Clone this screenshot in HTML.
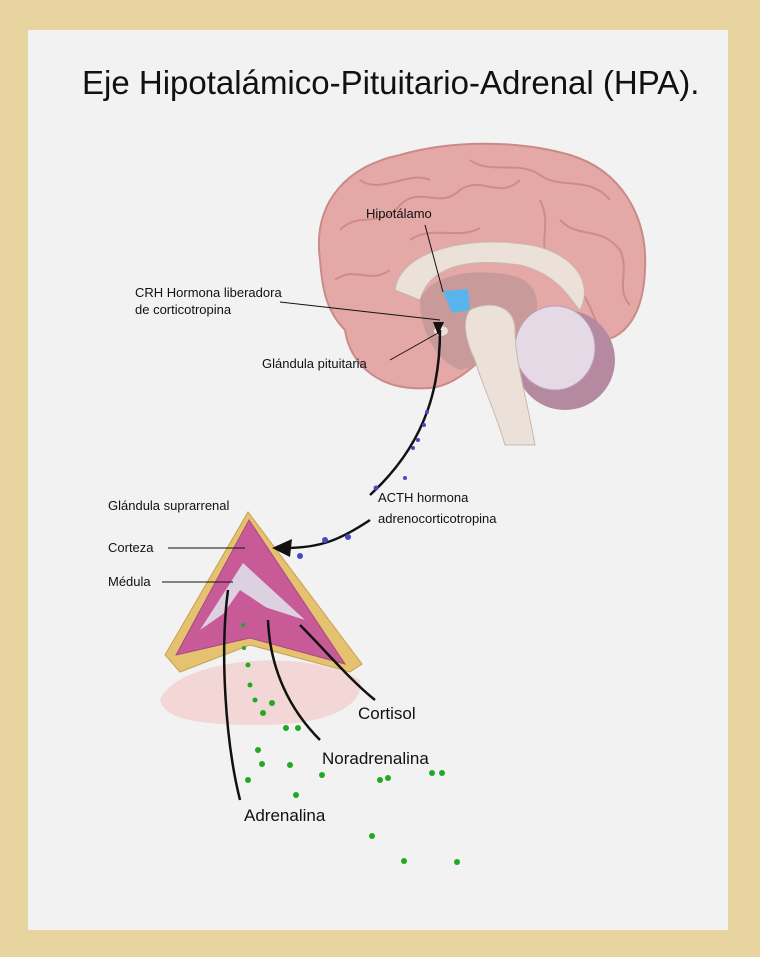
<!DOCTYPE html>
<html><head><meta charset="utf-8"><style>
html,body{margin:0;padding:0;width:760px;height:957px;background:#e7d49e;overflow:hidden}
svg{display:block}
text{font-family:"Liberation Sans",sans-serif;fill:#111}
</style></head><body>
<svg width="760" height="957" viewBox="0 0 760 957">
<rect x="0" y="0" width="760" height="957" fill="#e7d49e"/>
<rect x="28" y="30" width="700" height="900" fill="#f2f2f2"/>
<text x="82" y="94" font-size="33">Eje Hipotalámico-Pituitario-Adrenal (HPA).</text>

<!-- brain -->
<path d="M320,260 C312,200 350,165 400,155 C450,140 520,140 570,155 C620,170 648,215 645,270 C643,320 620,345 590,340 L540,320 C500,330 470,385 430,388 C380,392 350,365 345,330 C325,310 322,285 320,260 Z" fill="#e4a8a6" stroke="#c98a88" stroke-width="2"/>
<g fill="none" stroke="#c4807e" stroke-width="2" opacity="0.7">
<path d="M340,230 C360,210 380,230 400,205 C420,185 440,210 460,190 C480,175 500,200 520,180"/>
<path d="M360,180 C380,195 410,170 430,180 M470,160 C490,175 520,160 540,175 C560,190 590,175 610,200"/>
<path d="M335,280 C355,265 370,285 390,270 M560,220 C580,240 600,225 620,250 C630,270 615,290 630,305"/>
<path d="M540,200 C555,230 530,250 560,270 C585,285 590,310 600,330"/>
<path d="M410,240 C430,225 460,240 480,228"/>
</g>
<!-- corpus callosum -->
<path d="M395,290 C400,250 470,235 530,245 C570,252 595,280 580,310 C570,300 560,275 520,265 C470,258 430,265 420,300 Z" fill="#ece1d8" stroke="#c9b8ac"/>
<path d="M420,300 C430,275 470,268 510,275 C535,280 545,300 530,330 L500,360 L460,370 C435,360 420,330 420,300 Z" fill="#c99a9a"/>
<!-- cerebellum -->
<ellipse cx="565" cy="360" rx="50" ry="50" fill="#b58aa0"/>
<ellipse cx="555" cy="348" rx="40" ry="42" fill="#e6d9e6" stroke="#b9a0b9"/>
<!-- brainstem -->
<path d="M470,310 C490,300 515,305 515,330 C515,360 525,390 535,445 L505,445 C495,410 480,380 475,360 C465,340 462,320 470,310 Z" fill="#ece1d8" stroke="#c9b8ac"/>
<!-- hypothalamus -->
<path d="M443,291 L468,289 L470,310 L452,313 Z" fill="#5ab4ec"/>
<ellipse cx="441" cy="331" rx="7" ry="5" fill="#ece1d8"/>

<!-- adrenal -->
<path d="M160,700 C175,660 300,645 360,680 C365,705 330,725 260,725 C200,725 165,720 160,700 Z" fill="#f3d6d6"/>
<path d="M248,512 L165,655 L180,672 L250,645 L350,672 L362,664 Z" fill="#e5c270" stroke="#c9a050"/>
<path d="M249,520 L176,655 L250,638 L345,664 Z" fill="#c85a98" stroke="#a84a80"/>
<path d="M243,563 L200,630 L243,600 L305,620 Z" fill="#ddd0e0"/>
<path d="M240,590 L212,630 L245,612 L300,630 Z" fill="#c85a98"/>

<!-- pointer lines & arrows -->
<g stroke="#111" fill="none">
<line x1="425" y1="225" x2="443" y2="292" stroke-width="1"/>
<line x1="280" y1="302" x2="440" y2="320" stroke-width="1"/>
<line x1="390" y1="360" x2="438" y2="333" stroke-width="1"/>
<path d="M440,330 C440,380 430,440 370,495" stroke-width="2.5"/>
<path d="M370,520 C340,540 320,548 285,548" stroke-width="2.5"/>
<line x1="168" y1="548" x2="245" y2="548" stroke-width="1"/>
<line x1="162" y1="582" x2="233" y2="582" stroke-width="1"/>
<path d="M228,590 C220,650 225,740 240,800" stroke-width="2.5"/>
<path d="M268,620 C270,670 290,710 320,740" stroke-width="2.5"/>
<path d="M300,625 C325,650 350,680 375,700" stroke-width="2.5"/>
</g>
<path d="M272,548 L292,539 L290,557 Z" fill="#111"/>
<path d="M438,335 L433,322 L444,322 Z" fill="#111"/>

<!-- blue dots -->
<g fill="#4a46c8">
<circle cx="427" cy="412" r="2"/><circle cx="424" cy="425" r="2"/><circle cx="418" cy="440" r="2"/><circle cx="413" cy="448" r="2"/><circle cx="405" cy="478" r="2"/><circle cx="376" cy="488" r="2.5"/><circle cx="348" cy="537" r="3"/><circle cx="325" cy="540" r="3"/><circle cx="300" cy="556" r="3"/>
</g>
<!-- green dots -->
<g fill="#22a822">
<circle cx="243" cy="625" r="2"/><circle cx="244" cy="648" r="2"/><circle cx="248" cy="665" r="2.5"/><circle cx="250" cy="685" r="2.5"/><circle cx="255" cy="700" r="2.5"/><circle cx="263" cy="713" r="3"/><circle cx="272" cy="703" r="3"/><circle cx="298" cy="728" r="3"/><circle cx="286" cy="728" r="3"/><circle cx="258" cy="750" r="3"/><circle cx="262" cy="764" r="3"/><circle cx="248" cy="780" r="3"/><circle cx="296" cy="795" r="3"/><circle cx="322" cy="775" r="3"/><circle cx="380" cy="780" r="3"/><circle cx="388" cy="778" r="3"/><circle cx="432" cy="773" r="3"/><circle cx="442" cy="773" r="3"/><circle cx="372" cy="836" r="3"/><circle cx="404" cy="861" r="3"/><circle cx="457" cy="862" r="3"/><circle cx="290" cy="765" r="3"/>
</g>

<text x="366" y="218" font-size="13">Hipotálamo</text>
<text x="135" y="297" font-size="13">CRH Hormona liberadora</text>
<text x="135" y="314" font-size="13">de corticotropina</text>
<text x="262" y="368" font-size="13">Glándula pituitaria</text>
<text x="378" y="502" font-size="13">ACTH hormona</text>
<text x="378" y="523" font-size="13">adrenocorticotropina</text>
<text x="108" y="510" font-size="13">Glándula suprarrenal</text>
<text x="108" y="552" font-size="13">Corteza</text>
<text x="108" y="586" font-size="13">Médula</text>
<text x="358" y="719" font-size="17">Cortisol</text>
<text x="322" y="764" font-size="17">Noradrenalina</text>
<text x="244" y="821" font-size="17">Adrenalina</text>
</svg>
</body></html>
